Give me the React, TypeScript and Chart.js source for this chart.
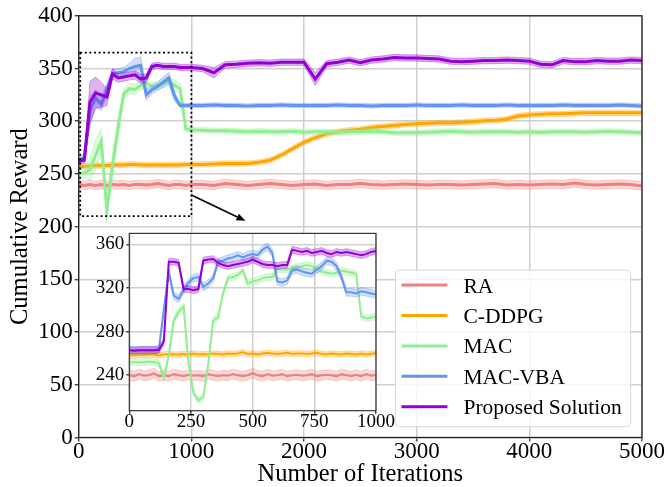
import React, { useEffect, useRef } from "react";
import { Chart, registerables } from "chart.js";
Chart.register(...registerables);

// ---------------- data ----------------
const seriesNames = ["RA", "C-DDPG", "MAC", "MAC-VBA", "Proposed Solution"];
const seriesColors = ["#F08080", "#FFA500", "#90EE90", "#6495ED", "#9400D3"];

const mainXTicks = [0, 1000, 2000, 3000, 4000, 5000];
const mainYTicks = [0, 50, 100, 150, 200, 250, 300, 350, 400];
const insetXTicks = [0, 250, 500, 750, 1000];
const insetYTicks = [240, 280, 320, 360];

const mainIterations = [
  0, 50, 100, 150, 200, 250, 300, 350, 400, 450, 500, 550, 600, 650, 700, 750, 800, 850, 900, 950, 1000,
  1100, 1200, 1300, 1400, 1500, 1600, 1700, 1800, 1900, 2000, 2100, 2200, 2300, 2400, 2500, 2600, 2700, 2800, 2900, 3000,
  3100, 3200, 3300, 3400, 3500, 3600, 3700, 3800, 3900, 4000, 4100, 4200, 4300, 4400, 4500, 4600, 4700, 4800, 4900, 5000,
];

const mainRA = [
  240, 239, 240, 239, 240, 239, 240, 239.5, 240, 239, 240, 240, 239.5, 240, 241, 240, 239, 240, 240, 239, 240,
  240, 239, 241, 240, 239, 240, 241, 240, 239, 240, 240.5, 239, 240, 240, 241, 240, 239.5, 240, 240.5, 240,
  239.5, 240, 240, 239.5, 240, 240.5, 241, 239.5, 240, 239.5, 240, 240.5, 240, 241.5, 240, 239.5, 240, 240.5, 240, 238.5,
];
const mainCDDPG = [
  257, 257, 257.5, 258, 258, 258, 258.5, 258.5, 258.5, 259, 259, 258.5, 258.5, 258.5, 258.5, 258.5, 258.5, 258.5, 258.5, 259, 259,
  259, 259.5, 260, 260, 260, 261, 263, 268, 274, 280, 284.5, 288, 290, 291.5, 292.5, 294, 295, 296, 297, 297.5,
  298, 298.5, 298.5, 299, 299.5, 300.5, 301, 302, 305, 306, 306.5, 307, 307, 307.5, 308, 308, 308, 308, 308, 308,
];
const mainMAC = [
  250, 251, 254, 268, 281, 216, 258, 294, 326, 331, 330, 334, 336, 333, 334, 336, 338, 334, 331, 293, 292,
  291.5, 291, 291, 290.5, 290, 290.5, 290, 290, 290.5, 289.5, 290, 290, 289.5, 290, 290, 290.5, 290, 289, 289, 289,
  289.5, 290, 290.5, 290, 289.5, 290, 290, 290, 289.5, 290, 289.5, 290, 290, 290, 289.5, 290, 290.5, 290, 289.5, 289,
];
const mainMACVBA = [
  263, 266, 310, 322, 316, 330, 345, 346, 347, 350, 352, 353, 325, 330, 333, 337, 341, 324, 315, 315, 315,
  315, 315.5, 315, 315, 314.5, 315, 315, 315.5, 315, 315, 315, 315, 315.5, 315, 315, 314.5, 315, 315, 315, 315.5,
  315, 315, 315, 315.5, 315, 315, 315, 315.5, 315, 315, 315, 315, 315.5, 315, 315, 315, 315, 315.5, 315, 314.5,
];
const mainProposed = [
  262, 263, 318, 327, 325, 323, 345, 341, 342, 343, 344, 340, 341, 352, 353, 352, 352, 352, 351, 351, 351,
  350, 346, 353.5, 354, 355, 355.5, 355, 356, 356, 356, 340, 354.5, 356, 358, 355.5, 358, 359, 360.5, 360, 360,
  359.5, 359, 357, 356.5, 357, 357.5, 357.5, 358, 357.5, 357, 354, 353.5, 357.5, 356.5, 356.5, 357.5, 357, 357, 358, 357.5,
];

const mainRAStd = 4;
const mainCDDPGStd = 2.5;
const mainMACStd = [
  3, 5, 10, 15, 12, 8, 12, 10, 5, 5, 5, 4, 4, 4, 4, 4, 5, 5, 5, 3, 2.5,
  2.5, 2.5, 2.5, 2.5, 2.5, 2.5, 2.5, 2.5, 2.5, 2.5, 2.5, 2.5, 2.5, 2.5, 2.5, 2.5, 2.5, 2.5, 2.5, 2.5,
  2.5, 2.5, 2.5, 2.5, 2.5, 2.5, 2.5, 2.5, 2.5, 2.5, 2.5, 2.5, 2.5, 2.5, 2.5, 2.5, 2.5, 2.5, 2.5, 2.5,
];
const mainMACVBAStd = [
  2, 4, 14, 8, 6, 6, 4, 4, 4, 5, 8, 8, 5, 4, 4, 5, 5, 5, 2, 2, 2,
  2, 2, 2, 2, 2, 2, 2, 2, 2, 2, 2, 2, 2, 2, 2, 2, 2, 2, 2, 2,
  2, 2, 2, 2, 2, 2, 2, 2, 2, 2, 2, 2, 2, 2, 2, 2, 2, 2, 2, 2,
];
const mainProposedStd = [
  2, 3, 20, 15, 12, 8, 5, 4, 4, 4, 4, 4, 4, 3, 3, 3, 3, 3, 3, 3, 3,
  3, 5, 3, 3, 3, 3, 3, 3, 3, 3, 6, 3, 3, 3, 3, 3, 3, 3, 3, 3,
  3, 3, 3, 3, 3, 3, 3, 3, 3, 3, 3, 3, 3, 3, 3, 3, 3, 3, 3, 3,
];

const insetIterations = [
  0, 20, 40, 60, 80, 100, 120, 140, 160, 180, 200, 220, 240, 260, 280, 300, 320, 340, 360, 380,
  400, 420, 440, 460, 480, 500, 520, 540, 560, 580, 600, 620, 640, 660, 680, 700, 720, 740, 760, 780,
  800, 820, 840, 860, 880, 900, 920, 940, 960, 980, 1000,
];
const insetRA = [
  240, 239, 241, 239.5, 240, 242, 239, 240, 239, 241, 240, 239, 240.5, 239.5, 240, 239, 241, 240, 239, 240,
  239.5, 241, 240, 239, 240, 242, 240, 239, 241, 239.5, 240, 241, 239, 240, 240.5, 239.5, 240, 241, 239, 240,
  240.5, 240, 239, 241, 240, 239, 240.5, 239, 241, 239.5, 240,
];
const insetCDDPG = [
  258.5, 258, 259, 258.5, 259, 259, 258, 259, 259.5, 259, 259, 259.5, 259, 260, 259, 259.5, 259, 260, 259.5, 259,
  260, 259.5, 260, 261, 259.5, 260, 259, 260, 260.5, 260, 259.5, 260, 260.5, 259.5, 260, 260, 259.5, 260, 260.5, 259.5,
  259, 260, 259.5, 259, 260, 259.5, 259, 260, 259, 259.5, 260.5,
];
const insetMAC = [
  252, 252, 252, 252, 252.5, 252, 251, 238, 258, 290, 298, 303, 252, 224, 217, 220, 250, 290, 293, 315,
  329, 330, 332, 336, 324, 326, 327, 329, 330, 330, 337, 337, 337, 338, 339, 340, 341, 340, 337, 335,
  334, 333, 334, 336, 335, 334, 333, 294, 292, 293, 294,
];
const insetMACVBA = [
  263, 263, 263, 263, 263, 263, 264, 300, 335, 313, 310, 318, 325, 329, 330, 321, 324, 329, 344, 345,
  347, 348, 350, 348, 350, 351, 350, 355, 358, 352, 326, 325, 327, 336, 337, 335, 334, 333, 337, 340,
  345, 344, 340, 330, 316, 316, 315, 317, 316, 315, 314,
];
const insetProposed = [
  263, 262.5, 263, 263, 263, 263, 263, 271, 344, 344, 343, 319, 319, 318, 319, 345, 346, 346.5, 343, 341,
  340, 341, 342, 343, 344, 346, 344, 342, 341, 341, 340, 341, 341, 355, 354, 353, 354, 352, 353, 354,
  352, 351, 353, 352, 353, 352, 351, 350, 351, 353, 354,
];
const insetStd = [4.5, 2.5, 3, 3.5, 3];

// zoom annotation (data units)
const zoomRegion = { x0: 0, x1: 1000, y0: 210, y1: 365 };
const arrowFrom = { x: 1000, y: 230 };
const arrowTo = { x: 1480, y: 205.5 };

// ---------------- helpers ----------------
const SERIF = '"Liberation Serif", "DejaVu Serif", serif';
const GRID = "#cfcfcf";

function rgba(hex: string, a: number) {
  const n = parseInt(hex.slice(1), 16);
  return `rgba(${(n >> 16) & 255},${(n >> 8) & 255},${n & 255},${a})`;
}
function bandVals(vals: number[], std: number | number[], sign: number) {
  return vals.map((v, i) => v + sign * (Array.isArray(std) ? std[i] : std));
}
function buildDatasets(xs: number[], series: number[][], stds: (number | number[])[], lw: number) {
  const ds: any[] = [];
  series.forEach((vals, k) => {
    const c = seriesColors[k];
    const lo = bandVals(vals, stds[k], -1);
    const hi = bandVals(vals, stds[k], 1);
    ds.push({
      label: "_lo" + k, data: xs.map((x, i) => ({ x, y: lo[i] })),
      borderColor: rgba(c, 0.35), borderWidth: 1, pointRadius: 0, fill: false,
    });
    ds.push({
      label: "_hi" + k, data: xs.map((x, i) => ({ x, y: hi[i] })),
      borderColor: rgba(c, 0.35), borderWidth: 1, pointRadius: 0,
      backgroundColor: rgba(c, 0.3), fill: "-1",
    });
    ds.push({
      label: seriesNames[k], data: xs.map((x, i) => ({ x, y: vals[i] })),
      borderColor: c, borderWidth: lw, pointRadius: 0, fill: false,
    });
  });
  const n = ds.length;
  ds.forEach((d, i) => (d.order = n - i));
  return ds;
}

const framePlugin = {
  id: "frame",
  afterDatasetsDraw(chart: any, _a: any, opts: any) {
    const { ctx, chartArea: ca } = chart;
    ctx.save();
    ctx.strokeStyle = opts.color || "#222";
    ctx.lineWidth = opts.width || 1.3;
    ctx.setLineDash([]);
    ctx.strokeRect(ca.left, ca.top, ca.right - ca.left, ca.bottom - ca.top);
    ctx.restore();
  },
};

const whiteBgPlugin = {
  id: "whiteBg",
  beforeDraw(chart: any) {
    const { ctx, chartArea: ca } = chart;
    ctx.save();
    ctx.fillStyle = "#ffffff";
    ctx.fillRect(ca.left, ca.top, ca.right - ca.left, ca.bottom - ca.top);
    ctx.restore();
  },
};

const annotationPlugin = {
  id: "zoomAnnot",
  afterDatasetsDraw(chart: any) {
    const { ctx, chartArea: ca } = chart;
    const xs = chart.scales.x, ys = chart.scales.y;
    ctx.save();
    // dotted zoom box
    const bx0 = xs.getPixelForValue(zoomRegion.x0) + 1.5;
    const bx1 = xs.getPixelForValue(zoomRegion.x1);
    const by0 = ys.getPixelForValue(zoomRegion.y1);
    const by1 = ys.getPixelForValue(zoomRegion.y0);
    ctx.strokeStyle = "#000";
    ctx.lineWidth = 1.8;
    ctx.setLineDash([2, 2.6]);
    ctx.strokeRect(bx0, by0, bx1 - bx0, by1 - by0);
    ctx.setLineDash([]);
    // arrow
    const p1 = { x: xs.getPixelForValue(arrowFrom.x), y: ys.getPixelForValue(arrowFrom.y) };
    const p2 = { x: xs.getPixelForValue(arrowTo.x), y: ys.getPixelForValue(arrowTo.y) };
    const ang = Math.atan2(p2.y - p1.y, p2.x - p1.x);
    const hl = 9, hw = 3.5;
    const bx = p2.x - hl * Math.cos(ang), byy = p2.y - hl * Math.sin(ang);
    ctx.lineWidth = 1.6;
    ctx.beginPath();
    ctx.moveTo(p1.x, p1.y);
    ctx.lineTo(bx, byy);
    ctx.stroke();
    ctx.fillStyle = "#000";
    ctx.beginPath();
    ctx.moveTo(p2.x, p2.y);
    ctx.lineTo(bx + hw * Math.sin(ang), byy - hw * Math.cos(ang));
    ctx.lineTo(bx - hw * Math.sin(ang), byy + hw * Math.cos(ang));
    ctx.closePath();
    ctx.fill();

    // legend (lower right)
    const fs = 21.5;
    ctx.font = `${fs}px ${SERIF}`;
    let tw = 0;
    seriesNames.forEach((s) => (tw = Math.max(tw, ctx.measureText(s).width)));
    const padL = 6, lineLen = 46, gap = 16, padR = 9, padT = 15, rowH = 30.4, padB = 20;
    const w = padL + lineLen + gap + tw + padR;
    const h = padT + rowH * (seriesNames.length - 1) + padB;
    const right = ca.right - 11.3, bottom = ca.bottom - 10.8;
    const left = right - w, top = bottom - h;
    const r = 4;
    ctx.beginPath();
    ctx.moveTo(left + r, top);
    ctx.lineTo(right - r, top);
    ctx.arcTo(right, top, right, top + r, r);
    ctx.lineTo(right, bottom - r);
    ctx.arcTo(right, bottom, right - r, bottom, r);
    ctx.lineTo(left + r, bottom);
    ctx.arcTo(left, bottom, left, bottom - r, r);
    ctx.lineTo(left, top + r);
    ctx.arcTo(left, top, left + r, top, r);
    ctx.closePath();
    ctx.fillStyle = "rgba(255,255,255,0.8)";
    ctx.fill();
    ctx.strokeStyle = "#d9d9d9";
    ctx.lineWidth = 1;
    ctx.stroke();
    seriesNames.forEach((s, k) => {
      const y = top + padT + k * rowH;
      ctx.strokeStyle = seriesColors[k];
      ctx.lineWidth = 3;
      ctx.beginPath();
      ctx.moveTo(left + padL, y);
      ctx.lineTo(left + padL + lineLen, y);
      ctx.stroke();
      ctx.fillStyle = "#000";
      ctx.textAlign = "left";
      ctx.textBaseline = "alphabetic";
      ctx.fillText(s, left + padL + lineLen + gap, y + 7.5);
    });
    ctx.restore();
  },
};

function axisCommon(fontSize: number, tickLen: number, pad: number) {
  return {
    type: "linear" as const,
    grid: { color: GRID, lineWidth: 1.5, tickLength: tickLen, tickColor: "#222", tickWidth: 1.2 },
    border: { display: false },
    ticks: {
      font: { family: SERIF, size: fontSize }, color: "#000", padding: pad, maxRotation: 0, autoSkip: false,
      callback: (v: any) => String(v),
    },
  };
}

export default function App() {
  const mainRef = useRef<HTMLCanvasElement | null>(null);
  const insetRef = useRef<HTMLCanvasElement | null>(null);

  useEffect(() => {
    const mainChart = new Chart(mainRef.current as HTMLCanvasElement, {
      type: "line",
      data: {
        datasets: buildDatasets(
          mainIterations,
          [mainRA, mainCDDPG, mainMAC, mainMACVBA, mainProposed],
          [mainRAStd, mainCDDPGStd, mainMACStd, mainMACVBAStd, mainProposedStd],
          3
        ),
      },
      options: {
        responsive: false,
        maintainAspectRatio: false,
        animation: false,
        layout: { padding: { left: 0, top: 15, right: 26, bottom: 0 } },
        plugins: { legend: { display: false }, tooltip: { enabled: false }, frame: { color: "#222", width: 1.3 } } as any,
        scales: {
          x: {
            ...axisCommon(23, 4, -3),
            min: 0, max: 5000,
            afterBuildTicks: (s: any) => { s.ticks = mainXTicks.map((v) => ({ value: v })); },
            afterFit: (s: any) => { s.height = 49.5; },
            title: { display: true, text: "Number of Iterations", color: "#000", font: { family: SERIF, size: 24.5, lineHeight: 1 }, padding: { top: 0, bottom: 0 } },
          },
          y: {
            ...axisCommon(23, 4, 2),
            min: 0, max: 400,
            afterBuildTicks: (s: any) => { s.ticks = mainYTicks.map((v) => ({ value: v })); },
            afterFit: (s: any) => { s.width = 78.7; },
            title: { display: true, text: "Cumulative Reward", color: "#000", font: { family: SERIF, size: 24.5, lineHeight: 1 }, padding: { top: 8.6, bottom: 0 } },
          },
        } as any,
      },
      plugins: [framePlugin, annotationPlugin],
    });

    const insetChart = new Chart(insetRef.current as HTMLCanvasElement, {
      type: "line",
      data: {
        datasets: buildDatasets(
          insetIterations,
          [insetRA, insetCDDPG, insetMAC, insetMACVBA, insetProposed],
          insetStd,
          2
        ),
      },
      options: {
        responsive: false,
        maintainAspectRatio: false,
        animation: false,
        layout: { padding: { left: 0, top: 6.7, right: 34, bottom: 0 } },
        plugins: { legend: { display: false }, tooltip: { enabled: false }, frame: { color: "#333", width: 1.2 } } as any,
        scales: {
          x: {
            ...axisCommon(19, 3, -3),
            min: 0, max: 1000,
            afterBuildTicks: (s: any) => { s.ticks = insetXTicks.map((v) => ({ value: v })); },
            afterFit: (s: any) => { s.height = 29.3; },
          },
          y: {
            ...axisCommon(19, 3, 2),
            min: 207.5, max: 370,
            afterBuildTicks: (s: any) => { s.ticks = insetYTicks.map((v) => ({ value: v })); },
            afterFit: (s: any) => { s.width = 49.3; },
          },
        } as any,
      },
      plugins: [whiteBgPlugin, framePlugin],
    });

    return () => {
      mainChart.destroy();
      insetChart.destroy();
    };
  }, []);

  return (
    <div style={{ position: "fixed", left: 0, top: 0, width: 668, height: 487, background: "#fff" }}>
      <canvas ref={mainRef} width={668} height={487} style={{ position: "absolute", left: 0, top: 0 }} />
      <canvas ref={insetRef} width={330} height={220} style={{ position: "absolute", left: 80, top: 220 }} />
    </div>
  );
}
